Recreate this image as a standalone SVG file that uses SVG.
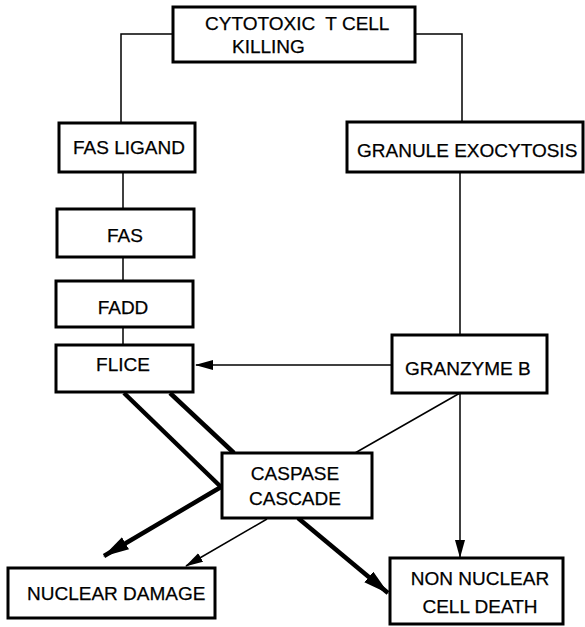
<svg xmlns="http://www.w3.org/2000/svg" width="585" height="627" viewBox="0 0 585 627">
<style>
.box{fill:#fff;stroke:#000;stroke-width:3}
.t{font-family:"Liberation Sans",Arial,sans-serif;font-size:19px;fill:#000;stroke:#000;stroke-width:0.25}
.c{text-anchor:middle}
.thin{fill:none;stroke:#000;stroke-width:1.5}
.thick{fill:none;stroke:#000;stroke-width:4.5}
</style>
<defs>
<marker id="ah" markerUnits="userSpaceOnUse" markerWidth="18" markerHeight="12" refX="17" refY="5" orient="auto">
<path d="M0,0 L18,5 L0,10 z" fill="#000"/>
</marker>
<marker id="ahb" markerUnits="userSpaceOnUse" markerWidth="26" markerHeight="16" refX="25" refY="7" orient="auto">
<path d="M0,0 L26,7 L0,14 z" fill="#000"/>
</marker>
</defs>
<g id="connectors">
<polyline class="thin" points="173,34 121,34 121,123"/>
<polyline class="thin" points="415,34 462,34 462,122"/>
<line class="thin" x1="123" y1="172" x2="123" y2="209"/>
<line class="thin" x1="123" y1="257" x2="123" y2="281"/>
<line class="thin" x1="123" y1="327" x2="123" y2="345"/>
<line class="thin" x1="460" y1="172" x2="460" y2="335"/>
<line class="thin" x1="391" y1="365" x2="196" y2="365" marker-end="url(#ah)"/>
<line class="thin" x1="460" y1="393" x2="460" y2="557" marker-end="url(#ah)"/>
<line class="thin" x1="460" y1="393" x2="355" y2="453"/>
<line class="thick" x1="124" y1="393" x2="221" y2="487"/>
<line class="thick" x1="170" y1="393" x2="234" y2="453"/>
<line class="thick" x1="221" y1="487" x2="104" y2="556" marker-end="url(#ahb)"/>
<line class="thin" x1="267" y1="519" x2="186" y2="566" marker-end="url(#ah)"/>
<line class="thick" x1="298" y1="518" x2="388" y2="593" marker-end="url(#ahb)"/>
</g>
<g id="ctl">
<rect class="box" x="173" y="7" width="242" height="55"/>
<text class="t" x="205" y="30" xml:space="preserve">CYTOTOXIC  T CELL</text>
<text class="t" x="232" y="53">KILLING</text>
</g>
<g id="fasligand">
<rect class="box" x="59" y="123" width="136" height="49"/>
<text class="t" x="73" y="154">FAS LIGAND</text>
</g>
<g id="granule">
<rect class="box" x="347" y="122" width="236" height="50"/>
<text class="t" x="357" y="157">GRANULE EXOCYTOSIS</text>
</g>
<g id="fas">
<rect class="box" x="57" y="209" width="137" height="48"/>
<text class="t c" x="125" y="242">FAS</text>
</g>
<g id="fadd">
<rect class="box" x="56" y="281" width="137" height="46"/>
<text class="t c" x="123" y="314">FADD</text>
</g>
<g id="flice">
<rect class="box" x="56" y="345" width="137" height="47"/>
<text class="t c" x="123" y="371">FLICE</text>
</g>
<g id="granzyme">
<rect class="box" x="392" y="335" width="155" height="58"/>
<text class="t" x="405" y="375">GRANZYME B</text>
</g>
<g id="caspase">
<rect class="box" x="222" y="453" width="150" height="65"/>
<text class="t c" x="295" y="480">CASPASE</text>
<text class="t c" x="295" y="505">CASCADE</text>
</g>
<g id="nuclear">
<rect class="box" x="8" y="568" width="207" height="50"/>
<text class="t" x="27" y="600">NUCLEAR DAMAGE</text>
</g>
<g id="nonnuclear">
<rect class="box" x="390" y="558" width="173" height="66"/>
<text class="t c" x="480" y="585">NON NUCLEAR</text>
<text class="t c" x="480" y="613">CELL DEATH</text>
</g>
</svg>
